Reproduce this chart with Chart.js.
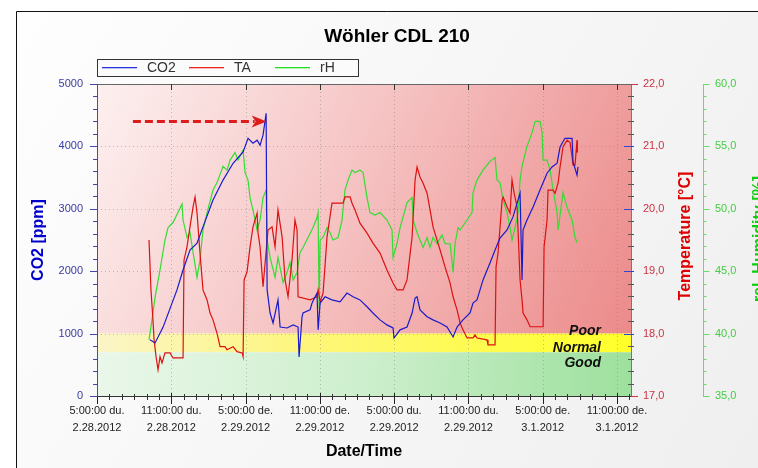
<!DOCTYPE html>
<html>
<head>
<meta charset="utf-8">
<script src="https://cdn.jsdelivr.net/npm/chart.js@4.4.1/dist/chart.umd.min.js"></script>
<style>
html,body{margin:0;padding:0;background:#fff;}
#wrap{width:758px;height:468px;position:relative;}
</style>
</head>
<body>
<div id="wrap"><canvas id="c" width="758" height="468"></canvas></div>
<script>
// ---- Data (hours since 2.28.2012 17:00) ----
const chartTitle = "Wöhler CDL 210";
const xTickLabels = [
  ["5:00:00 du.","2.28.2012"],["11:00:00 du.","2.28.2012"],
  ["5:00:00 de.","2.29.2012"],["11:00:00 de.","2.29.2012"],
  ["5:00:00 du.","2.29.2012"],["11:00:00 du.","2.29.2012"],
  ["5:00:00 de.","3.1.2012"],["11:00:00 de.","3.1.2012"]
];
const seriesNames = ["CO2","TA","rH"];

const co2Hours = [4.28,4.69,5.33,6.46,6.95,7.51,8.08,8.56,9.37,10.18,10.99,11.80,12.20,12.60,12.93,13.17,13.41,13.66,13.74,13.98,14.22,14.62,14.79,15.35,15.84,16.24,16.32,16.56,16.64,17.21,17.37,17.77,17.86,18.02,18.42,18.98,19.63,20.19,20.68,21.24,21.81,22.29,22.86,23.42,23.91,23.99,24.48,25.04,25.45,25.69,25.85,26.09,26.66,27.14,27.71,28.27,28.76,29.08,29.56,30.13,30.37,30.69,31.18,31.74,32.15,32.55,33.12,33.60,34.17,34.33,34.41,34.73,35.22,35.78,36.35,36.75,37.16,37.40,37.80,38.37,38.45,38.77,38.85];
const co2Values = [900,850,1100,1700,2020,2340,2450,2710,3140,3460,3730,3910,4130,4050,4100,4020,4180,4530,1700,1330,1170,1540,1105,1090,1140,1105,625,1270,1330,1380,1490,1650,1060,1490,1590,1540,1510,1650,1590,1540,1430,1330,1220,1140,1090,930,1060,1105,1330,1570,1590,1380,1270,1220,1170,1105,945,1105,1220,1330,1490,1540,1860,2130,2340,2530,2660,2870,3250,1860,2660,2820,3030,3300,3570,3670,3730,3990,4130,4130,3750,3540,3670];

const taHours = [4.20,4.36,4.52,4.61,4.77,4.93,5.09,5.25,5.49,5.90,6.14,6.95,7.03,7.27,7.51,7.76,7.92,8.08,8.32,8.56,8.89,9.13,9.37,9.70,9.94,10.34,10.50,10.99,11.31,11.72,11.80,11.88,12.12,12.36,12.60,12.93,13.01,13.17,13.41,13.81,14.14,14.38,14.62,14.95,15.19,15.43,15.75,15.99,16.16,16.24,17.21,17.77,17.86,18.02,18.26,18.58,18.98,19.87,20.03,20.44,20.60,20.84,21.24,21.81,22.29,22.86,23.42,23.91,24.23,24.72,25.04,25.45,25.69,25.85,26.09,26.34,26.66,27.14,27.71,28.11,28.52,28.76,29.08,29.33,29.56,29.89,30.37,30.53,30.69,31.50,31.58,32.15,32.23,32.39,32.72,32.80,33.12,33.36,33.52,33.69,33.93,34.17,34.33,34.41,34.73,34.98,36.03,36.11,36.35,36.43,36.84,37.00,37.24,37.40,37.64,37.97,38.21,38.37,38.45,38.61,38.77,38.80];
const taValues = [19.5,18.7,18.22,17.9,17.63,17.42,17.63,17.53,17.69,17.69,17.61,17.61,19.18,19.39,19.71,20.03,20.19,19.93,19.29,18.7,18.54,18.33,18.22,18.0,17.79,17.79,17.74,17.79,17.71,17.69,17.63,18.86,18.99,19.39,19.71,19.93,19.61,19.39,18.75,19.66,19.71,19.39,19.98,19.55,18.86,18.59,19.18,19.82,19.66,18.59,18.54,18.59,18.7,18.51,18.65,19.55,20.09,20.09,20.19,20.19,20.09,19.98,19.77,19.61,19.45,19.29,19.02,18.81,18.7,18.7,18.86,19.55,20.46,20.67,20.51,20.41,20.25,19.71,19.34,19.07,18.81,18.59,18.38,18.17,18.06,17.93,17.93,17.98,17.93,17.9,17.82,17.82,19.07,19.29,20.14,20.19,20.03,19.93,20.46,20.25,20.03,18.86,18.54,18.33,18.22,18.11,18.11,19.39,19.82,20.3,20.3,20.25,20.41,20.67,20.99,21.1,21.06,20.83,20.7,20.7,21.1,20.9];

const rhHours = [4.20,4.44,4.69,5.09,5.49,5.74,6.14,6.54,6.87,6.95,7.27,7.51,7.76,8.08,8.32,8.56,8.89,9.37,9.70,10.18,10.50,10.75,11.15,11.39,11.80,11.96,12.20,12.36,12.60,12.93,13.17,13.41,13.66,13.74,13.98,14.38,14.62,15.03,15.35,15.59,15.84,16.16,16.40,16.64,17.05,17.45,17.77,17.86,17.94,18.02,18.26,18.58,18.82,19.06,19.47,19.79,20.03,20.28,20.60,20.84,21.24,21.49,21.81,22.05,22.46,22.86,23.42,23.83,23.91,24.23,24.48,25.04,25.45,25.53,25.85,26.09,26.34,26.66,26.90,27.14,27.46,27.87,28.11,28.52,28.76,28.92,29.16,29.33,29.89,30.29,30.37,30.69,31.18,31.74,32.15,32.31,32.55,32.80,33.12,33.36,33.52,33.77,34.01,34.17,34.33,34.73,35.14,35.39,35.78,35.95,36.03,36.35,36.60,36.84,37.16,37.24,37.56,37.64,37.97,38.37,38.61,38.77];
const rhValues = [39.5,41.1,42.9,45.1,47.5,48.5,48.9,49.7,50.4,49.1,47.7,48.1,46.5,44.5,45.9,48.3,49.7,51.5,52.1,53.4,53.1,53.9,54.5,53.9,54.7,52.9,52.3,50.9,49.9,48.3,49.1,50.9,51.5,47.5,46.1,44.5,46.1,44.1,44.9,45.7,44.3,44.9,46.5,46.9,47.7,48.5,49.3,49.7,42.0,47.5,47.7,48.5,48.1,47.5,47.7,49.1,51.5,52.3,53.1,52.9,53.1,52.9,50.9,49.7,49.5,49.7,49.1,48.3,46.1,47.2,48.5,50.5,50.9,49.1,48.1,47.5,46.9,47.7,46.9,47.7,47.2,47.9,47.2,47.2,44.9,47.2,48.5,48.3,49.1,49.7,51.3,52.3,53.1,53.8,54.1,52.3,52.1,50.7,49.7,48.5,47.5,48.5,49.7,52.3,53.4,55.0,56.1,57.0,57.0,56.1,53.9,53.9,53.1,51.5,49.7,48.3,50.7,51.3,50.1,49.1,47.7,47.3];

// CO2 quality bands (ppm)
const bandNormalLow = 700;
const bandPoorLow = 1000;
const bandNames = ["Poor","Normal","Good"];
// Arrow annotation (hours, ppm)
const arrowFrom = {x: 2.9, y: 4400};
const arrowTo = {x: 13.7, y: 4400};

const FONT = '"Liberation Sans", Arial, sans-serif';
const zip = (xs, ys) => xs.map((x, i) => ({x, y: ys[i]}));

const decorPlugin = {
  id: 'decor',
  beforeDraw(chart) {
    const {ctx, chartArea: ca, scales: {x, y}} = chart;
    const W = chart.width, H = chart.height;
    ctx.save();
    ctx.fillStyle = '#ffffff';
    ctx.fillRect(0, 0, W, H);
    const bg = ctx.createLinearGradient(16, 11, W, H);
    bg.addColorStop(0, '#fefefe');
    bg.addColorStop(1, '#efefef');
    ctx.fillStyle = bg;
    ctx.fillRect(16, 11, W - 16, H - 11);
    ctx.strokeStyle = '#111';
    ctx.lineWidth = 1;
    ctx.beginPath();
    ctx.moveTo(16.5, H); ctx.lineTo(16.5, 11.5); ctx.lineTo(W, 11.5);
    ctx.stroke();

    const yPoor = y.getPixelForValue(bandPoorLow);
    const yNorm = y.getPixelForValue(bandNormalLow);
    // red band
    let g = ctx.createLinearGradient(ca.left, ca.top, ca.right, yPoor);
    g.addColorStop(0, '#fdf0f0');
    g.addColorStop(0.45, '#f6c4c4');
    g.addColorStop(1, '#ec8a8a');
    ctx.fillStyle = g;
    ctx.fillRect(ca.left, ca.top, ca.right - ca.left, yPoor - ca.top);
    // yellow band
    g = ctx.createLinearGradient(ca.left, 0, ca.right, 0);
    g.addColorStop(0, '#fbf5c8');
    g.addColorStop(0.4, '#fdf67a');
    g.addColorStop(1, '#ffff2a');
    ctx.fillStyle = g;
    ctx.fillRect(ca.left, yPoor, ca.right - ca.left, yNorm - yPoor);
    // green band
    g = ctx.createLinearGradient(ca.left, yNorm, ca.right, ca.bottom);
    g.addColorStop(0, '#eaf7ea');
    g.addColorStop(0.5, '#cdefcd');
    g.addColorStop(1, '#9de09d');
    ctx.fillStyle = g;
    ctx.fillRect(ca.left, yNorm, ca.right - ca.left, ca.bottom - yNorm);

    // dotted grid
    ctx.strokeStyle = 'rgba(130,130,130,0.5)';
    ctx.setLineDash([1, 3]);
    ctx.beginPath();
    for (let v = 6; v < x.max; v += 6) {
      const px = Math.round(x.getPixelForValue(v)) + 0.5;
      ctx.moveTo(px, ca.top); ctx.lineTo(px, ca.bottom);
    }
    for (let v = 1000; v < 5000; v += 1000) {
      const py = Math.round(y.getPixelForValue(v)) + 0.5;
      ctx.moveTo(ca.left, py); ctx.lineTo(ca.right, py);
    }
    ctx.stroke();
    ctx.restore();
  },
  afterDatasetsDraw(chart) {
    const {ctx, chartArea: ca, scales: {x, y, y1, y2}} = chart;
    ctx.save();
    // band labels
    ctx.fillStyle = '#111';
    ctx.font = 'italic bold 14px ' + FONT;
    ctx.textAlign = 'right';
    ctx.textBaseline = 'alphabetic';
    const yPoor = y.getPixelForValue(bandPoorLow);
    const yNorm = y.getPixelForValue(bandNormalLow);
    ctx.fillText(bandNames[0], 601, yPoor + 1);
    ctx.fillText(bandNames[1], 601, yPoor + 18);
    ctx.fillText(bandNames[2], 601, yNorm + 15);

    // arrow
    const ax0 = x.getPixelForValue(arrowFrom.x), ay = y.getPixelForValue(arrowFrom.y);
    const ax1 = x.getPixelForValue(arrowTo.x);
    ctx.strokeStyle = '#dd1c1c';
    ctx.fillStyle = '#dd1c1c';
    ctx.lineWidth = 3;
    ctx.setLineDash([8, 4]);
    ctx.beginPath();
    ctx.moveTo(ax0, ay); ctx.lineTo(ax1 - 12, ay);
    ctx.stroke();
    ctx.setLineDash([]);
    ctx.beginPath();
    ctx.moveTo(ax1, ay);
    ctx.lineTo(ax1 - 15, ay - 6);
    ctx.lineTo(ax1 - 11, ay);
    ctx.lineTo(ax1 - 15, ay + 6);
    ctx.closePath();
    ctx.fill();

    // axes lines & ticks
    ctx.lineWidth = 1;
    const L = ca.left, R = ca.right, T = ca.top, B = ca.bottom;
    const line = (x0, y0, x1, y1_, col) => {
      ctx.strokeStyle = col; ctx.beginPath(); ctx.moveTo(x0, y0); ctx.lineTo(x1, y1_); ctx.stroke();
    };
    // top & bottom
    line(L, T + 0.5, R, T + 0.5, '#666');
    line(L, B + 0.5, R, B + 0.5, '#333');
    for (let h = 0; h <= x.max; h += 1) {
      const px = Math.round(x.getPixelForValue(h)) + 0.5;
      if (h % 6 === 0) {
        line(px, B - 3, px, B + 8, '#222');
        if (h > 0) line(px, T, px, T + 6, '#333');
      } else {
        line(px, B - 2, px, B + 4, '#333');
      }
    }
    // left CO2 axis
    line(L + 0.5, T, L + 0.5, B + 1, '#555');
    for (let v = 0; v <= 5000; v += 200) {
      const py = Math.round(y.getPixelForValue(v)) + 0.5;
      if (v % 1000 === 0) line(L - 7, py, L + 1, py, '#4444aa');
      else line(L - 4, py, L + 1, py, '#4444aa');
    }
    // right temperature axis
    line(R + 0.5, T, R + 0.5, B + 1, '#777');
    for (let i = 0; i <= 25; i++) {
      const v = 17 + i * 0.2;
      const py = Math.round(y1.getPixelForValue(v)) + 0.5;
      if (i % 5 === 0) {
        if (i === 0 || i === 25) line(R, py, R + 7, py, '#cc3344');
        else line(R - 7, py, R + 3, py, '#3344cc');
      } else line(R - 3, py, R + 3, py, '#555');
    }
    // humidity axis
    const hx = Math.round(y2.left) + 0.5;
    line(hx, T, hx, B + 1, '#66dd66');
    for (let v = 35; v <= 60; v += 1) {
      const py = Math.round(y2.getPixelForValue(v)) + 0.5;
      line(hx, py, hx + ((v % 5 === 0) ? 6 : 3), py, '#66dd66');
    }

    // title
    ctx.fillStyle = '#000';
    ctx.font = 'bold 19px ' + FONT;
    ctx.textAlign = 'center';
    ctx.textBaseline = 'alphabetic';
    ctx.fillText(chartTitle, 397, 42);

    // legend
    ctx.fillStyle = '#fbfbfb';
    ctx.fillRect(97.5, 59.5, 261, 17);
    ctx.strokeStyle = '#333';
    ctx.strokeRect(97.5, 59.5, 261, 17);
    const legCols = ['#2233dd', '#ee2222', '#22dd22'];
    const legX = [102, 189, 275];
    ctx.font = '14px ' + FONT;
    ctx.textAlign = 'left';
    ctx.textBaseline = 'middle';
    for (let i = 0; i < 3; i++) {
      ctx.fillStyle = legCols[i];
      ctx.fillRect(legX[i], 67, 35, 1.3);
      ctx.fillStyle = '#333';
      ctx.fillText(seriesNames[i], legX[i] + 45, 68);
    }

    // axis titles
    ctx.font = 'bold 16px ' + FONT;
    ctx.textAlign = 'center';
    ctx.textBaseline = 'middle';
    const vt = (txt, cx, cy, col) => {
      ctx.save(); ctx.translate(cx, cy); ctx.rotate(-Math.PI / 2);
      ctx.fillStyle = col; ctx.fillText(txt, 0, 0); ctx.restore();
    };
    vt('CO2 [ppm]', 39, 240, '#0000cc');
    vt('Temperature [°C]', 686, 236, '#dd0000');
    vt('rel. Humidity [%]', 760, 239, '#11cc11');
    ctx.fillStyle = '#000';
    ctx.fillText('Date/Time', (L + R) / 2, 452);
    ctx.restore();
  }
};

const tickFont = {family: FONT, size: 11};
new Chart(document.getElementById('c'), {
  type: 'line',
  data: {
    datasets: [
      {label: seriesNames[0], data: zip(co2Hours, co2Values), yAxisID: 'y', borderColor: '#1a1acc', borderWidth: 1.2, pointRadius: 0, tension: 0},
      {label: seriesNames[1], data: zip(taHours, taValues), yAxisID: 'y1', borderColor: '#dd1111', borderWidth: 1.2, pointRadius: 0, tension: 0},
      {label: seriesNames[2], data: zip(rhHours, rhValues), yAxisID: 'y2', borderColor: '#33dd33', borderWidth: 1.2, pointRadius: 0, tension: 0}
    ]
  },
  options: {
    responsive: false,
    animation: false,
    devicePixelRatio: 1,
    layout: {padding: {top: 84, left: 0, right: 0, bottom: 0}},
    plugins: {legend: {display: false}, title: {display: false}, tooltip: {enabled: false}},
    scales: {
      x: {
        type: 'linear', position: 'bottom', min: 0, max: 43.13,
        afterFit: s => { s.height = 72; },
        grid: {display: false, drawTicks: false}, border: {display: false},
        ticks: {
          stepSize: 6, includeBounds: false, autoSkip: false, maxRotation: 0, padding: 7,
          color: '#222', font: {family: FONT, size: 11, lineHeight: 1.5},
          callback: v => { const i = Math.round(v / 6); return Math.abs(v - i * 6) < 0.01 && xTickLabels[i] ? xTickLabels[i] : ''; }
        }
      },
      y: {
        position: 'left', min: 0, max: 5000,
        afterFit: s => { s.width = 97; },
        grid: {display: false, drawTicks: false}, border: {display: false},
        ticks: {stepSize: 1000, padding: 14, color: '#3a3aa8', font: tickFont, callback: v => String(v)}
      },
      y1: {
        position: 'right', min: 17, max: 22,
        afterFit: s => { s.width = 72; },
        grid: {display: false, drawTicks: false}, border: {display: false},
        ticks: {stepSize: 1, padding: 12, color: '#cc3344', font: tickFont, callback: v => v.toFixed(1).replace('.', ',')}
      },
      y2: {
        position: 'right', min: 35, max: 60,
        afterFit: s => { s.width = 55; },
        grid: {display: false, drawTicks: false}, border: {display: false},
        ticks: {stepSize: 5, padding: 12, color: '#44cc44', font: tickFont, callback: v => v.toFixed(1).replace('.', ',')}
      }
    }
  },
  plugins: [decorPlugin]
});
</script>
</body>
</html>
